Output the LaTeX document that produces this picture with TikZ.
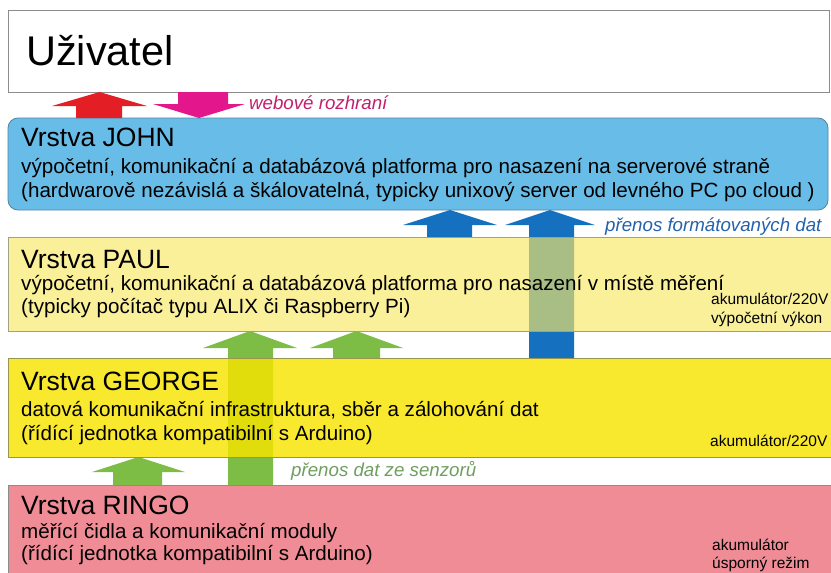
\documentclass[tikz,border=0pt]{standalone}
\usepackage{fontspec}
\setmainfont{Liberation Sans}
\usetikzlibrary{calc}
\definecolor{johnfill}{RGB}{104,189,232}
\definecolor{johnline}{RGB}{90,130,160}
\definecolor{paulfill}{RGB}{249,232,100}
\definecolor{paulline}{RGB}{160,160,130}
\definecolor{georgefill}{RGB}{248,229,0}
\definecolor{georgeline}{RGB}{150,150,80}
\definecolor{ringofill}{RGB}{240,140,150}
\definecolor{greyline}{RGB}{140,140,140}
\definecolor{redA}{RGB}{227,30,37}
\definecolor{magA}{RGB}{227,22,140}
\definecolor{blueA}{RGB}{21,112,192}
\definecolor{greenA}{RGB}{125,189,69}
\definecolor{magT}{RGB}{194,32,110}
\definecolor{blueT}{RGB}{36,98,174}
\definecolor{greenT}{RGB}{111,159,95}
% block arrow pointing up: fill, shaft left, shaft right, head left, head right, top, bottom, head height
\newcommand\blkup[8]{%
  \pgfmathsetmacro\apx{(#4+#5)/2}%
  \fill[#1] (#2,0 |- #7) -- ($(#2,0 |- #6)+(0,#8)$) -- ($(#4,0 |- #6)+(0,#8)$)
    -- (\apx,0 |- #6) -- ($(#5,0 |- #6)+(0,#8)$) -- ($(#3,0 |- #6)+(0,#8)$)
    -- (#3,0 |- #7) -- cycle;}
% block arrow pointing down: fill, shaft left, shaft right, head left, head right, top, bottom, head height
\newcommand\blkdown[8]{%
  \pgfmathsetmacro\apx{(#4+#5)/2}%
  \fill[#1] (#2,0 |- #6) -- ($(#2,0 |- #7)+(0,-#8)$) -- ($(#4,0 |- #7)+(0,-#8)$)
    -- (\apx,0 |- #7) -- ($(#5,0 |- #7)+(0,-#8)$) -- ($(#3,0 |- #7)+(0,-#8)$)
    -- (#3,0 |- #6) -- cycle;}
\begin{document}
\begin{tikzpicture}[x=1pt,y=-1pt,
  layerbox/.style={line width=0.8pt, inner sep=0pt, outer sep=0pt, anchor=north west},
  ttl/.style={anchor=base west, inner sep=0pt, font=\fontsize{26.5}{30}\selectfont},
  sub/.style={anchor=base west, inner sep=0pt, font=\fontsize{20.6}{24}\selectfont},
  pwr/.style={anchor=base west, inner sep=0pt, font=\fontsize{15.5}{18}\selectfont},
  lbl/.style={anchor=base west, inner sep=0pt, font=\fontsize{18.7}{22}\selectfont\itshape}]
\path[use as bounding box, fill=white] (0,0) rectangle (831,573);
\clip (0,0) rectangle (831,573);
% boxes (top two)
\node[layerbox, draw=greyline, fill=white, minimum width=821pt, minimum height=82pt] (user) at (8,10) {};
\node[layerbox, draw=johnline, fill=johnfill, rounded corners=10pt, minimum width=820pt, minimum height=92pt] (john) at (8,118) {};
% corner points of the lower boxes (for arrow geometry)
\path (8,237) coordinate (paulNW) (8,331) coordinate (paulSW)
      (8,358) coordinate (georgeNW) (8,457) coordinate (georgeSW)
      (8,485) coordinate (ringoNW);
% arrows
\blkup{redA}{76}{122}{52}{147}{user.south}{john.north}{14}
\blkdown{magA}{178}{228}{153}{245}{user.south}{john.north}{14}
\blkup{blueA}{427}{472}{403}{497}{john.south}{paulNW}{15}
\blkup{blueA}{529}{574}{505}{595}{john.south}{georgeNW}{15}
\blkup{greenA}{228}{273}{203}{297}{paulSW}{ringoNW}{17}
\blkup{greenA}{333}{380}{310}{403}{paulSW}{georgeNW}{17}
\blkup{greenA}{113}{162}{92}{185}{georgeSW}{ringoNW}{15}
% lower boxes
\node[layerbox, draw=paulline, fill=paulfill, fill opacity=0.65, minimum width=830pt, minimum height=94pt] (paul) at (paulNW) {};
\node[layerbox, draw=georgeline, fill=georgefill, fill opacity=0.82, minimum width=830pt, minimum height=99pt] (george) at (georgeNW) {};
\node[layerbox, draw=greyline, fill=ringofill, minimum width=830pt, minimum height=100pt] (ringo) at (ringoNW) {};
% texts
\node[anchor=base west, inner sep=0pt, font=\fontsize{41.5}{46}\selectfont] (uT) at (26,65) {Uživatel};
\node[ttl] (jT) at (21,146) {Vrstva JOHN};
\node[sub] (j1) at (21,173) {výpočetní, komunikační a databázová platforma pro nasazení na serverové straně};
\node[sub] (j2) at (21,197) {(hardwarově nezávislá a škálovatelná, typicky unixový server od levného PC po cloud )};
\node[ttl] (pT) at (21,268) {Vrstva PAUL};
\node[sub] (p1) at (21,290) {výpočetní, komunikační a databázová platforma pro nasazení v místě měření};
\node[sub] (p2) at (21,313) {(typicky počítač typu ALIX či Raspberry Pi)};
\node[pwr] (pR1) at (711,304) {akumulátor/220V};
\node[pwr] (pR2) at (711,323) {výpočetní výkon};
\node[ttl] (gT) at (21,390) {Vrstva GEORGE};
\node[sub] (g1) at (21,416) {datová komunikační infrastruktura, sběr a zálohování dat};
\node[sub] (g2) at (21,440) {(řídící jednotka kompatibilní s Arduino)};
\node[pwr] (gR) at (710,446) {akumulátor/220V};
\node[ttl] (rT) at (21,514) {Vrstva RINGO};
\node[sub] (r1) at (21,538) {měřící čidla a komunikační moduly};
\node[sub] (r2) at (21,560) {(řídící jednotka kompatibilní s Arduino)};
\node[pwr] (rR1) at (712,550) {akumulátor};
\node[pwr] (rR2) at (712,568) {úsporný režim};
% labels
\node[lbl, text=magT] (lWeb) at (249,109) {webové rozhraní};
\node[lbl, text=blueT] (lFmt) at (605,231) {přenos formátovaných dat};
\node[lbl, text=greenT] (lSen) at (291,476) {přenos dat ze senzorů};
\end{tikzpicture}
\end{document}
